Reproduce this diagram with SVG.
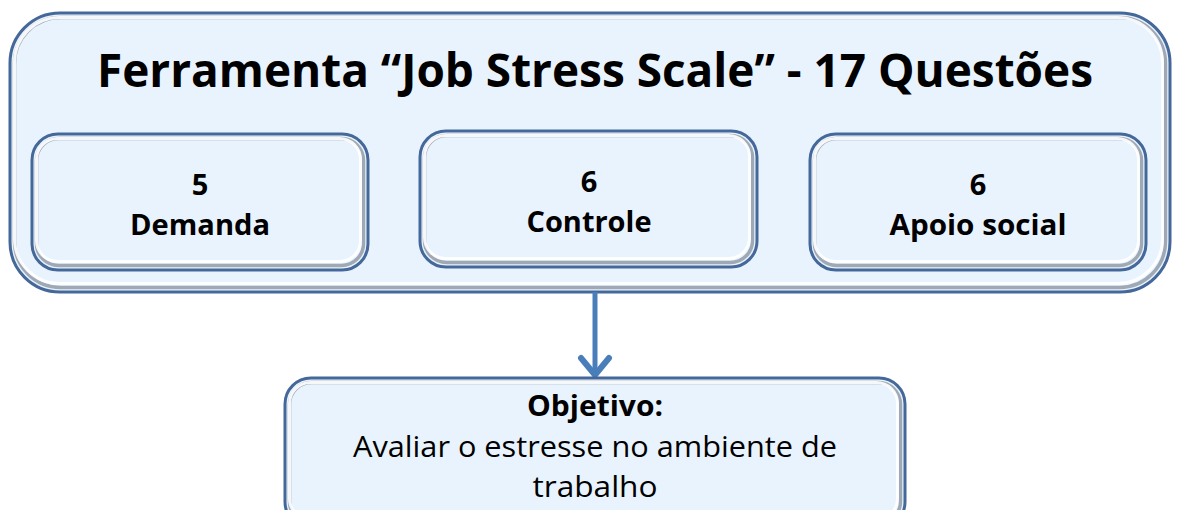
<svg xmlns="http://www.w3.org/2000/svg" width="1179" height="510" viewBox="0 0 1179 510">
<style>
.fr{fill:#E9F3FD;stroke:#45689A;stroke-width:3}
.hl{fill:none;stroke:#FFFFFF;stroke-width:3;opacity:0.9}
.sh{fill:none;stroke:#8C96A3;stroke-width:3.5;opacity:0.8}
.t{font-family:"Open Sans","Liberation Sans",sans-serif;fill:#000;text-anchor:middle}
.b{font-weight:bold}
</style>
<rect width="1179" height="510" fill="#FFFFFF"/>
<g id="outer">
<rect class="fr" x="10" y="13" width="1160" height="279" rx="50"/>
<rect class="sh" x="14.5" y="17.5" width="1151" height="270" rx="46"/>
<rect class="hl" x="14.5" y="17.5" width="1148" height="266" rx="45"/>
<text class="t b" x="595" y="87" font-size="47" textLength="996" lengthAdjust="spacingAndGlyphs">Ferramenta “Job Stress Scale” - 17 Questões</text>
</g>
<g id="demanda">
<rect class="fr" x="32" y="134" width="336" height="136" rx="26"/>
<rect class="sh" x="36.5" y="138.5" width="327" height="127" rx="22"/>
<rect class="hl" x="36.5" y="138.5" width="324" height="123" rx="21"/>
<text class="t b" x="200" y="195" font-size="29">5</text>
<text class="t b" x="200" y="235" font-size="29" textLength="140" lengthAdjust="spacingAndGlyphs">Demanda</text>
</g>
<g id="controle">
<rect class="fr" x="420" y="131" width="337" height="136" rx="26"/>
<rect class="sh" x="424.5" y="135.5" width="328" height="127" rx="22"/>
<rect class="hl" x="424.5" y="135.5" width="325" height="123" rx="21"/>
<text class="t b" x="589" y="192" font-size="29">6</text>
<text class="t b" x="589" y="232" font-size="29" textLength="125" lengthAdjust="spacingAndGlyphs">Controle</text>
</g>
<g id="apoio">
<rect class="fr" x="810" y="134" width="336" height="136" rx="26"/>
<rect class="sh" x="814.5" y="138.5" width="327" height="127" rx="22"/>
<rect class="hl" x="814.5" y="138.5" width="324" height="123" rx="21"/>
<text class="t b" x="978" y="195" font-size="29">6</text>
<text class="t b" x="978" y="235" font-size="29" textLength="177" lengthAdjust="spacingAndGlyphs">Apoio social</text>
</g>
<g id="connectors">
<line x1="595" y1="292" x2="595" y2="374" stroke="#4A7EBB" stroke-width="5"/>
<polyline points="581,358 595,375 609,358" fill="none" stroke="#4A7EBB" stroke-width="6" stroke-linecap="round" stroke-linejoin="miter"/>
</g>
<g id="objetivo">
<rect class="fr" x="285" y="378" width="620" height="150" rx="26"/>
<rect class="sh" x="289.5" y="382.5" width="611" height="141" rx="22"/>
<rect class="hl" x="289.5" y="382.5" width="608" height="137" rx="21"/>
<text class="t b" x="595" y="416" font-size="28" textLength="136" lengthAdjust="spacingAndGlyphs">Objetivo:</text>
<text class="t" x="595" y="457" font-size="30" textLength="484" lengthAdjust="spacingAndGlyphs">Avaliar o estresse no ambiente de</text>
<text class="t" x="595" y="497" font-size="30" textLength="125" lengthAdjust="spacingAndGlyphs">trabalho</text>
</g>
</svg>
